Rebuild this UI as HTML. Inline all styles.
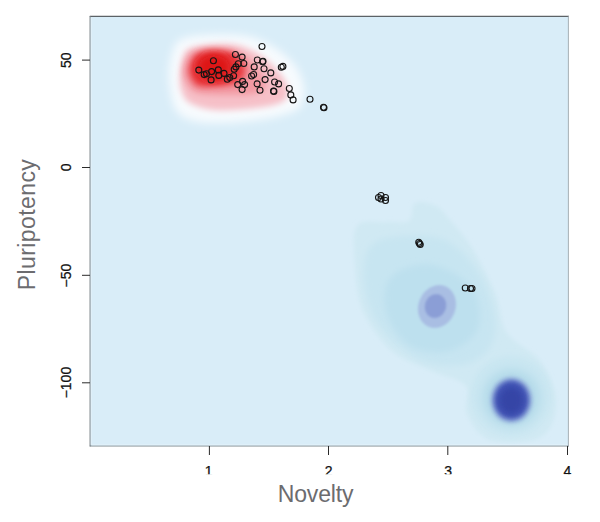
<!DOCTYPE html>
<html><head><meta charset="utf-8">
<style>
html,body{margin:0;padding:0;background:#fff;}
body{width:600px;height:522px;overflow:hidden;position:relative;font-family:"Liberation Sans",sans-serif;}
svg{position:absolute;left:0;top:0;}
</style></head><body>
<svg width="600" height="522" viewBox="0 0 600 522">
<defs>
  <filter id="b1" x="-50%" y="-50%" width="200%" height="200%"><feGaussianBlur stdDeviation="1"/></filter>
  <filter id="b3" x="-50%" y="-50%" width="200%" height="200%"><feGaussianBlur stdDeviation="3"/></filter>
  <filter id="b2" x="-50%" y="-50%" width="200%" height="200%"><feGaussianBlur stdDeviation="2"/></filter>
  <filter id="b4" x="-50%" y="-50%" width="200%" height="200%"><feGaussianBlur stdDeviation="4"/></filter>
  <clipPath id="plot"><rect x="90" y="16" width="478.5" height="430"/></clipPath>
  <clipPath id="xlab"><rect x="150" y="455" width="450" height="19.3"/></clipPath>
</defs>
<rect x="90" y="16" width="478.5" height="430" fill="#d9edf8"/>
<g clip-path="url(#plot)">
  <!-- broad blue region -->
  <path d="M415.0 203.0 C419.5 200.5 430.2 203.2 436.0 206.0 C441.8 208.8 444.0 213.0 450.0 220.0 C456.0 227.0 464.5 235.8 472.0 248.0 C479.5 260.2 489.2 278.8 495.0 293.0 C500.8 307.2 499.3 321.5 507.0 333.0 C514.7 344.5 532.8 350.3 541.0 362.0 C549.2 373.7 556.0 390.5 556.0 403.0 C556.0 415.5 552.0 430.8 541.0 437.0 C530.0 443.2 502.3 443.8 490.0 440.0 C477.7 436.2 471.0 423.0 467.0 414.0 C463.0 405.0 471.8 393.2 466.0 386.0 C460.2 378.8 444.3 376.8 432.0 371.0 C419.7 365.2 403.5 361.0 392.0 351.0 C380.5 341.0 369.2 325.3 363.0 311.0 C356.8 296.7 356.0 279.2 355.0 265.0 C354.0 250.8 352.0 233.2 357.0 226.0 C362.0 218.8 376.3 222.8 385.0 222.0 C393.7 221.2 404.0 224.2 409.0 221.0 C414.0 217.8 410.5 205.5 415.0 203.0 Z" fill="#d0e9f3" filter="url(#b2)"/>
  <path d="M369.0 248.0 C375.2 238.3 389.7 237.0 403.0 236.0 C416.3 235.0 435.5 234.3 449.0 242.0 C462.5 249.7 476.3 266.7 484.0 282.0 C491.7 297.3 497.0 320.7 495.0 334.0 C493.0 347.3 483.5 357.3 472.0 362.0 C460.5 366.7 440.3 366.7 426.0 362.0 C411.7 357.3 396.0 345.3 386.0 334.0 C376.0 322.7 368.8 308.3 366.0 294.0 C363.2 279.7 362.8 257.7 369.0 248.0 Z" fill="#c7e5f1" filter="url(#b3)"/>
  <path d="M392.0 276.0 C399.7 268.3 418.7 263.0 432.0 265.0 C445.3 267.0 464.3 277.5 472.0 288.0 C479.7 298.5 481.8 317.5 478.0 328.0 C474.2 338.5 460.5 348.2 449.0 351.0 C437.5 353.8 419.5 351.7 409.0 345.0 C398.5 338.3 388.8 322.5 386.0 311.0 C383.2 299.5 384.3 283.7 392.0 276.0 Z" fill="#bde0ee" filter="url(#b3)"/>
  <circle cx="511" cy="396" r="40" fill="#c9e6f1" filter="url(#b3)"/>
  <circle cx="511.5" cy="398" r="29" fill="#b6dcea" filter="url(#b4)"/>
  <!-- medium blob -->
  <ellipse cx="437" cy="306.5" rx="18.5" ry="22" transform="rotate(22 437 306.5)" fill="#a9bee3" filter="url(#b1)"/>
  <ellipse cx="435.5" cy="306" rx="10.5" ry="12" transform="rotate(18 435.5 306)" fill="#8b9ed6" filter="url(#b1)"/>
  <!-- dark blob -->
  <ellipse cx="511.4" cy="400" rx="20.5" ry="22.5" fill="#8aa3d8" filter="url(#b2)"/>
  <ellipse cx="511.4" cy="400" rx="17" ry="19" fill="#4254b6" filter="url(#b2)"/>
  <ellipse cx="511.4" cy="400.5" rx="12" ry="13.5" fill="#3444a6" filter="url(#b3)"/>
  <!-- red blob -->
  <path d="M169.0 80.0 C168.3 70.7 169.8 60.8 172.0 54.0 C174.2 47.2 174.8 42.2 182.0 39.0 C189.2 35.8 203.5 34.8 215.0 34.5 C226.5 34.2 240.5 34.4 251.0 37.0 C261.5 39.6 270.5 45.0 278.0 50.0 C285.5 55.0 291.7 60.7 296.0 67.0 C300.3 73.3 303.2 81.7 304.0 88.0 C304.8 94.3 303.0 101.0 301.0 105.0 C299.0 109.0 298.0 109.7 292.0 112.0 C286.0 114.3 276.2 117.2 265.0 119.0 C253.8 120.8 236.8 122.7 225.0 123.0 C213.2 123.3 202.2 123.2 194.0 121.0 C185.8 118.8 180.2 116.8 176.0 110.0 C171.8 103.2 169.7 89.3 169.0 80.0 Z" fill="#f7fbfe" filter="url(#b4)"/>
  <path d="M180.0 79.0 C180.2 73.3 181.2 63.2 183.0 58.0 C184.8 52.8 184.8 50.3 191.0 48.0 C197.2 45.7 211.5 44.2 220.0 44.0 C228.5 43.8 234.7 44.2 242.0 46.5 C249.3 48.8 257.5 53.2 264.0 58.0 C270.5 62.8 277.0 69.7 281.0 75.0 C285.0 80.3 287.8 85.5 288.0 90.0 C288.2 94.5 287.5 99.0 282.0 102.0 C276.5 105.0 266.2 106.7 255.0 108.0 C243.8 109.3 225.8 110.8 215.0 110.0 C204.2 109.2 195.5 106.0 190.0 103.0 C184.5 100.0 183.7 96.0 182.0 92.0 C180.3 88.0 179.8 84.7 180.0 79.0 Z" fill="#f6c0c8" filter="url(#b3)"/>
  <path d="M183.0 72.0 C183.0 67.7 184.7 61.6 187.0 58.0 C189.3 54.4 191.8 52.0 197.0 50.5 C202.2 49.0 211.5 48.8 218.0 49.0 C224.5 49.2 230.3 49.3 236.0 51.5 C241.7 53.7 247.7 58.1 252.0 62.0 C256.3 65.9 259.8 70.8 262.0 75.0 C264.2 79.2 266.7 83.8 265.0 87.0 C263.3 90.2 259.5 92.7 252.0 94.0 C244.5 95.3 229.2 95.2 220.0 95.0 C210.8 94.8 202.5 94.8 197.0 93.0 C191.5 91.2 189.3 87.5 187.0 84.0 C184.7 80.5 183.0 76.3 183.0 72.0 Z" fill="#f29aa3" filter="url(#b3)"/>
  <path d="M189.0 69.0 C189.3 65.7 191.2 60.7 193.0 58.0 C194.8 55.3 196.2 54.1 200.0 53.0 C203.8 51.9 210.3 51.5 216.0 51.5 C221.7 51.5 229.5 51.1 234.0 53.0 C238.5 54.9 241.2 59.7 243.0 63.0 C244.8 66.3 246.0 69.7 245.0 73.0 C244.0 76.3 242.0 80.8 237.0 83.0 C232.0 85.2 221.5 85.5 215.0 86.0 C208.5 86.5 202.0 87.3 198.0 86.0 C194.0 84.7 192.5 80.8 191.0 78.0 C189.5 75.2 188.7 72.3 189.0 69.0 Z" fill="#e93a40" filter="url(#b3)"/>
  <ellipse cx="214" cy="67" rx="18" ry="14.5" fill="#de1414" filter="url(#b4)"/>
</g>
<line x1="89.8" y1="16.4" x2="568.9" y2="16.4" stroke="#5c6266" stroke-width="1.1"/>
<line x1="90.1" y1="15.9" x2="90.1" y2="446.5" stroke="#7a8287" stroke-width="1.1"/>
<line x1="89.8" y1="446" x2="568.9" y2="446" stroke="#7f898e" stroke-width="1.1"/>
<line x1="568.4" y1="15.9" x2="568.4" y2="446.5" stroke="#a0a9ae" stroke-width="0.9"/>
<line x1="91.2" y1="17.5" x2="91.2" y2="444.8" stroke="#e6f3fa" stroke-width="0.8"/>
<line x1="91.5" y1="444.9" x2="567.5" y2="444.9" stroke="#e6f3fa" stroke-width="0.8"/>
<!-- points -->
<g fill="none" stroke="#151515" stroke-width="1.1" id="pts">
  <circle cx="213.4" cy="60.8" r="3"/>
  <circle cx="198.8" cy="70.1" r="3"/>
  <circle cx="204.2" cy="74.6" r="3"/>
  <circle cx="206.5" cy="73.8" r="3"/>
  <circle cx="211.6" cy="71.6" r="3"/>
  <circle cx="211.1" cy="79.9" r="3"/>
  <circle cx="218.3" cy="69.9" r="3"/>
  <circle cx="218.8" cy="75.4" r="3"/>
  <circle cx="224.0" cy="73.4" r="3"/>
  <circle cx="227.3" cy="79.3" r="3"/>
  <circle cx="229.8" cy="77.6" r="3"/>
  <circle cx="233.6" cy="75.8" r="3"/>
  <circle cx="234.2" cy="69.3" r="3"/>
  <circle cx="235.9" cy="66.9" r="3"/>
  <circle cx="238.3" cy="63.8" r="3"/>
  <circle cx="235.4" cy="54.5" r="3"/>
  <circle cx="242.1" cy="57.1" r="3"/>
  <circle cx="243.8" cy="63.5" r="3"/>
  <circle cx="262.0" cy="46.5" r="3"/>
  <circle cx="257.3" cy="60.0" r="3"/>
  <circle cx="263.0" cy="61.2" r="3"/>
  <circle cx="262.6" cy="61.8" r="3"/>
  <circle cx="254.2" cy="66.9" r="3"/>
  <circle cx="264.0" cy="68.7" r="3"/>
  <circle cx="270.8" cy="72.9" r="3"/>
  <circle cx="251.6" cy="76.0" r="3"/>
  <circle cx="253.6" cy="74.5" r="3"/>
  <circle cx="265.1" cy="79.6" r="3"/>
  <circle cx="274.6" cy="82.0" r="3"/>
  <circle cx="278.6" cy="83.9" r="3"/>
  <circle cx="281.3" cy="67.3" r="3"/>
  <circle cx="282.9" cy="66.4" r="3"/>
  <circle cx="273.5" cy="91.0" r="3"/>
  <circle cx="273.9" cy="91.4" r="3"/>
  <circle cx="289.3" cy="88.5" r="3"/>
  <circle cx="290.8" cy="94.9" r="3"/>
  <circle cx="293.1" cy="99.9" r="3"/>
  <circle cx="310.0" cy="99.2" r="3"/>
  <circle cx="323.5" cy="107.3" r="3"/>
  <circle cx="324.0" cy="107.8" r="3"/>
  <circle cx="237.7" cy="84.6" r="3"/>
  <circle cx="242.6" cy="81.4" r="3"/>
  <circle cx="244.6" cy="84.6" r="3"/>
  <circle cx="242.1" cy="89.6" r="3"/>
  <circle cx="257.1" cy="83.9" r="3"/>
  <circle cx="260.0" cy="90.2" r="3"/>
  <circle cx="378.5" cy="197.5" r="3"/>
  <circle cx="381" cy="195.5" r="3"/>
  <circle cx="381" cy="199" r="3"/>
  <circle cx="385.5" cy="197.5" r="3"/>
  <circle cx="385.5" cy="200.5" r="3"/>
  <circle cx="418.75" cy="242.25" r="3"/>
  <circle cx="419.5" cy="243.5" r="3"/>
  <circle cx="420.25" cy="244.5" r="3"/>
  <circle cx="465.25" cy="288" r="3"/>
  <circle cx="470.5" cy="288.5" r="3"/>
  <circle cx="472" cy="288.5" r="3"/>
</g>
<!-- ticks -->
<g stroke="#2a2a2a" stroke-width="1">
  <line x1="82" y1="60.1" x2="90" y2="60.1"/>
  <line x1="82" y1="167.5" x2="90" y2="167.5"/>
  <line x1="82" y1="275.3" x2="90" y2="275.3"/>
  <line x1="82" y1="382.8" x2="90" y2="382.8"/>
  <line x1="209.4" y1="446" x2="209.4" y2="455"/>
  <line x1="328.5" y1="446" x2="328.5" y2="455"/>
  <line x1="447.8" y1="446" x2="447.8" y2="455"/>
  <line x1="567.5" y1="446" x2="567.5" y2="455"/>
</g>
<g font-family="Liberation Sans" font-size="14" fill="#111" stroke="#111" stroke-width="0.25" text-anchor="middle">
  <text transform="translate(71 60.3) rotate(-90)">50</text>
  <text transform="translate(71 167.4) rotate(-90)">0</text>
  <text transform="translate(71 275.6) rotate(-90)">−50</text>
  <text transform="translate(71 382.6) rotate(-90)">−100</text>
</g>
<g font-family="Liberation Sans" font-size="14" fill="#111" stroke="#111" stroke-width="0.25" text-anchor="middle" clip-path="url(#xlab)">
  <text x="208.7" y="476">1</text>
  <text x="328.7" y="476">2</text>
  <text x="448.2" y="476">3</text>
  <text x="567.3" y="476">4</text>
</g>
<text x="315.6" y="501.5" font-family="Liberation Sans" font-size="23" fill="#6c6c6f" text-anchor="middle" letter-spacing="-0.15">Novelty</text>
<text transform="translate(35.3 224.5) rotate(-90)" font-family="Liberation Sans" font-size="23" fill="#6c6c6f" text-anchor="middle" letter-spacing="0.4">Pluripotency</text>
</svg>
</body></html>
